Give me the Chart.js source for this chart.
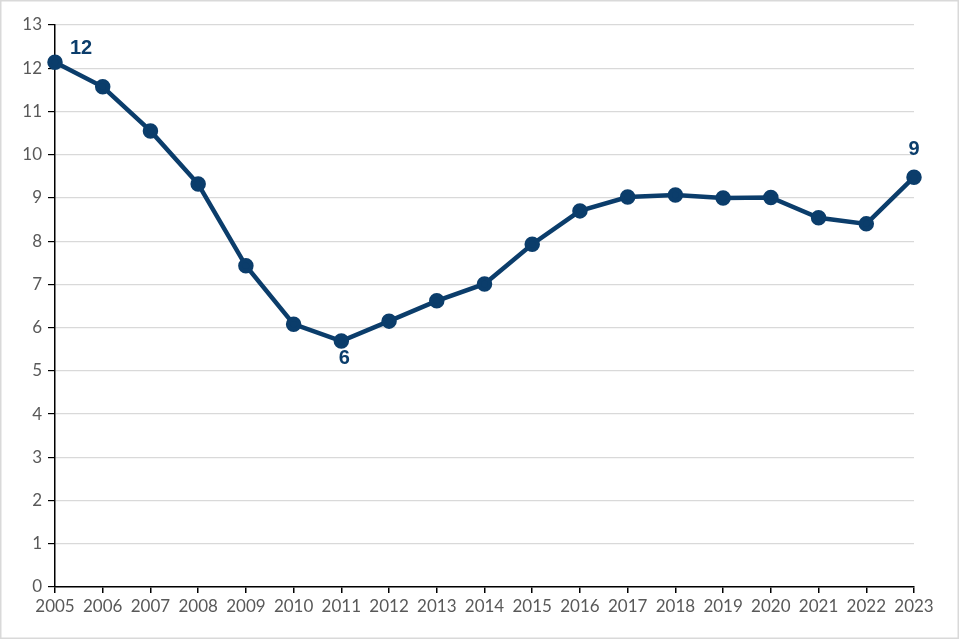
<!DOCTYPE html>
<html>
<head>
<meta charset="utf-8">
<script src="https://cdn.jsdelivr.net/npm/chart.js@4"></script>
<style>
html,body{margin:0;padding:0;background:#fff;}
#wrap{width:960px;height:640px;position:relative;}
</style>
</head>
<body>
<div id="wrap"><canvas id="c" width="960" height="640"></canvas></div>
<script>
const years = ['2005','2006','2007','2008','2009','2010','2011','2012','2013','2014','2015','2016','2017','2018','2019','2020','2021','2022','2023'];
const values = [12.14,11.57,10.55,9.32,7.43,6.08,5.69,6.15,6.62,7.01,7.93,8.70,9.02,9.07,9.00,9.01,8.54,8.40,9.48];
const labelIndexes = [0, 6, 18];
const labelTexts = ['12', '6', '9'];

const lineColor = '#0b3d6b';

const frame = {
  id: 'frame',
  beforeDraw(chart) {
    const ctx = chart.ctx;
    ctx.save();
    ctx.fillStyle = '#fff';
    ctx.fillRect(0, 0, chart.width, chart.height);
    ctx.strokeStyle = '#d9d9d9';
    ctx.lineWidth = 1.5;
    ctx.strokeRect(0.75, 0.75, chart.width - 2.5, chart.height - 2.5);
    ctx.restore();
  }
};

const pointLabels = {
  id: 'pointLabels',
  afterDatasetsDraw(chart) {
    const ctx = chart.ctx;
    const meta = chart.getDatasetMeta(0);
    const offsets = [[26, -14], [3, 17], [0, -28]];
    ctx.save();
    ctx.font = 'bold 20px "Liberation Sans", Arial, sans-serif';
    ctx.fillStyle = lineColor;
    ctx.textAlign = 'center';
    ctx.textBaseline = 'middle';
    labelIndexes.forEach((idx, k) => {
      const p = meta.data[idx];
      ctx.fillText(labelTexts[k], p.x + offsets[k][0], p.y + offsets[k][1]);
    });
    ctx.restore();
  }
};

new Chart(document.getElementById('c'), {
  type: 'line',
  data: {
    labels: years,
    datasets: [{
      data: values,
      borderColor: lineColor,
      backgroundColor: lineColor,
      borderWidth: 4.5,
      pointRadius: 5.5,
      pointBackgroundColor: lineColor,
      pointBorderColor: lineColor,
      tension: 0,
      clip: false
    }]
  },
  options: {
    responsive: false,
    animation: false,
    devicePixelRatio: 1,
    layout: { padding: { left: 0, top: 25, right: 46, bottom: 0 } },
    plugins: { legend: { display: false }, tooltip: { enabled: false } },
    scales: {
      x: {
        type: 'category',
        offset: false,
        grid: { drawOnChartArea: false, color: '#000', tickColor: '#000', tickLength: 6, lineWidth: 1.5 },
        border: { color: '#000', width: 1.5 },
        ticks: { color: '#595959', font: { family: 'Lato, "Liberation Sans", sans-serif', size: 17 }, maxRotation: 0, autoSkip: false, padding: 3 },
        afterFit(s) { s.height = 53; }
      },
      y: {
        min: 0, max: 13,
        grid: { color: '#d9d9d9', tickColor: '#000', tickLength: 7, lineWidth: 1.2 },
        border: { color: '#000', width: 1.5 },
        ticks: { stepSize: 1, color: '#595959', font: { family: 'Lato, "Liberation Sans", sans-serif', size: 17 }, padding: 6 },
        afterFit(s) { s.width = 55; }
      }
    }
  },
  plugins: [frame, pointLabels]
});
</script>
</body>
</html>
